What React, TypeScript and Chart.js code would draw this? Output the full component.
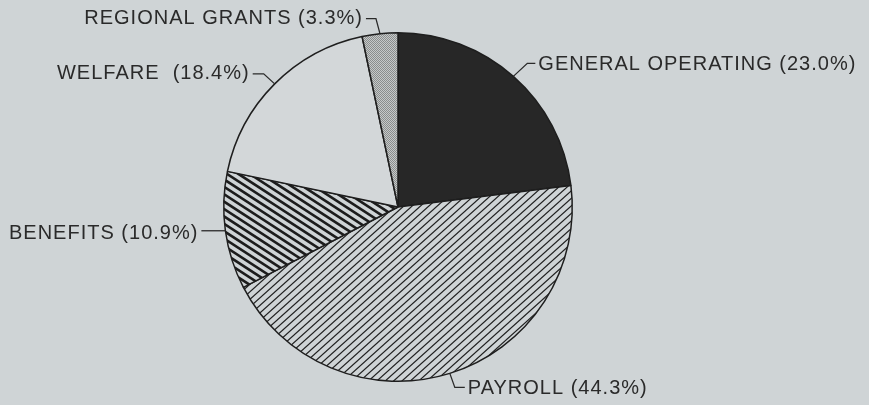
import React, { useEffect, useRef } from "react";
import { Chart, registerables } from "chart.js";

Chart.register(...registerables);

const CATEGORIES = ["GENERAL OPERATING", "PAYROLL", "BENEFITS", "WELFARE ", "REGIONAL GRANTS"];
const VALUES = [23.0, 44.3, 10.9, 18.4, 3.3];

// leader-line layout per label: elbow offset from arc anchor, horizontal run, side
const LAYOUT = [
  { dx: 14, dy: -13, run: 8, side: "right", gap: 3, ty: 1 },
  { dx: 5, dy: 14, run: 10, side: "right", gap: 3, ty: 1 },
  { dx: 0, dy: 0, run: -24, side: "left", gap: 3, ty: 2.5 },
  { dx: -11, dy: -10, run: -11, side: "left", gap: 3, ty: 0 },
  { dx: -4, dy: -15, run: -10, side: "left", gap: 3, ty: 0 },
];

const BG = "#cfd4d6";
const W = 869;
const H = 405;

function hatch(angleDeg: number, spacing: number, lw: number, bg: string, fg: string) {
  const c = document.createElement("canvas");
  c.width = W;
  c.height = H;
  const g = c.getContext("2d")!;
  g.fillStyle = bg;
  g.fillRect(0, 0, W, H);
  g.save();
  g.translate(W / 2, H / 2);
  g.rotate((angleDeg * Math.PI) / 180);
  const D = Math.hypot(W, H);
  g.strokeStyle = fg;
  g.lineWidth = lw;
  for (let y = -D; y <= D; y += spacing) {
    g.beginPath();
    g.moveTo(-D, y);
    g.lineTo(D, y);
    g.stroke();
  }
  g.restore();
  return g.createPattern(c, "repeat")!;
}

function stipple() {
  const c = document.createElement("canvas");
  c.width = 2;
  c.height = 2;
  const g = c.getContext("2d")!;
  g.fillStyle = "#c6c9c9";
  g.fillRect(0, 0, 2, 2);
  g.fillStyle = "#8a8d8d";
  g.fillRect(0, 0, 1, 1);
  g.fillRect(1, 1, 1, 1);
  return g.createPattern(c, "repeat")!;
}

const labelPlugin = {
  id: "leaderLabels",
  afterDatasetsDraw(chart: any) {
    const ctx = chart.ctx as CanvasRenderingContext2D;
    const meta = chart.getDatasetMeta(0);
    ctx.save();
    ctx.font = '20px "Liberation Sans", Arial, sans-serif';
    (ctx as any).letterSpacing = "1px";
    ctx.fillStyle = "#2a2a2a";
    ctx.strokeStyle = "#2a2a2a";
    ctx.lineWidth = 1.3;
    ctx.textBaseline = "middle";
    meta.data.forEach((arc: any, i: number) => {
      const p = arc.getProps(["x", "y", "startAngle", "endAngle", "outerRadius"], true);
      const mid = (p.startAngle + p.endAngle) / 2;
      const ax = p.x + Math.cos(mid) * p.outerRadius;
      const ay = p.y + Math.sin(mid) * p.outerRadius;
      const L = LAYOUT[i];
      const ex = ax + L.dx;
      const ey = ay + L.dy;
      const hx = ex + L.run;
      ctx.beginPath();
      ctx.moveTo(ax, ay);
      ctx.lineTo(ex, ey);
      ctx.lineTo(hx, ey);
      ctx.stroke();
      const text = `${CATEGORIES[i]} (${VALUES[i].toFixed(1)}%)`;
      if (L.side === "right") {
        ctx.textAlign = "left";
        ctx.fillText(text, hx + L.gap, ey + L.ty);
      } else {
        ctx.textAlign = "right";
        ctx.fillText(text, hx - L.gap, ey + L.ty);
      }
    });
    ctx.restore();
  },
};

export default function App() {
  const ref = useRef<HTMLCanvasElement>(null);
  useEffect(() => {
    const canvas = ref.current!;
    const fills = [
      "#272727",
      hatch(-42, 5.6, 1.2, BG, "#1f1f1f"),
      hatch(33, 6.2, 2.6, BG, "#1c1c1c"),
      "#d3d7d9",
      stipple(),
    ];
    const chart = new Chart(canvas, {
      type: "pie",
      data: {
        labels: CATEGORIES,
        datasets: [
          {
            data: VALUES,
            backgroundColor: fills as any,
            borderColor: "#1e1e1e",
            borderWidth: 1.5,
          },
        ],
      },
      options: {
        responsive: false,
        animation: false,
        layout: { padding: { top: 32, bottom: 23, left: 223, right: 296 } },
        plugins: { legend: { display: false }, tooltip: { enabled: false } },
      },
      plugins: [labelPlugin],
    });
    return () => chart.destroy();
  }, []);
  return (
    <div style={{ position: "fixed", left: 0, top: 0, width: W, height: H, background: BG }}>
      <canvas ref={ref} width={W} height={H} style={{ width: W, height: H, display: "block" }} />
    </div>
  );
}
